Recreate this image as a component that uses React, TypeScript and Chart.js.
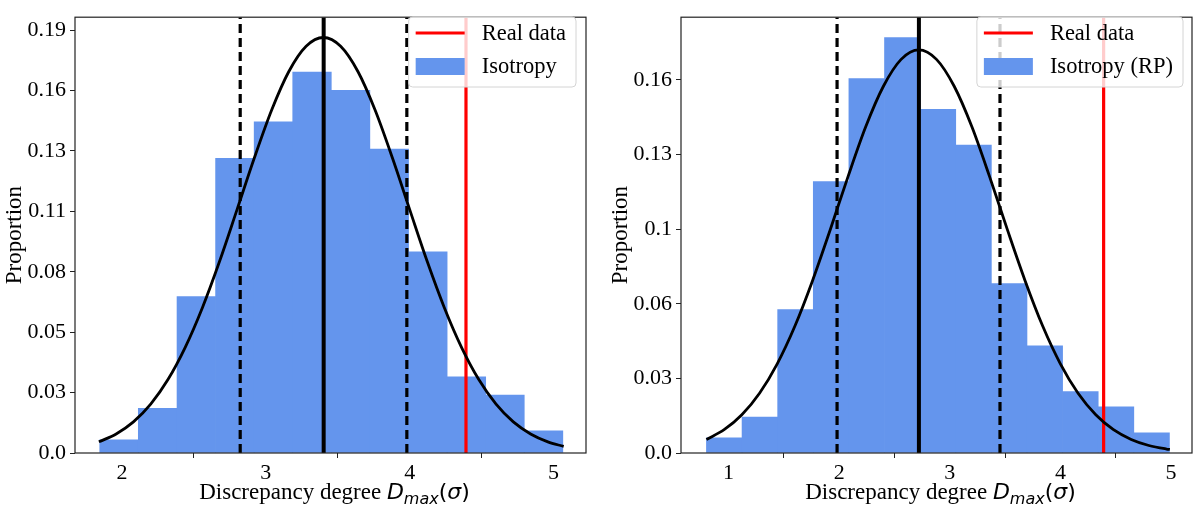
import React, { useEffect, useRef } from 'react';
import Chart from 'chart.js/auto';

// ---- left panel: Isotropy ----
const leftBinCenters = [1.98, 2.248, 2.517, 2.785, 3.053, 3.321, 3.589, 3.858, 4.126, 4.394, 4.662, 4.93];
const leftProportion = [0.0058, 0.0198, 0.0694, 0.1308, 0.147, 0.169, 0.161, 0.1349, 0.0893, 0.0338, 0.0257, 0.0098];
const leftCurveX = [1.84, 1.96, 2.08, 2.2, 2.32, 2.44, 2.56, 2.68, 2.8, 2.92, 3.04, 3.16, 3.28, 3.4, 3.52, 3.64, 3.76, 3.88, 4.0, 4.12, 4.24, 4.36, 4.48, 4.6, 4.72, 4.84, 4.96, 5.07];
const leftCurveY = [0.00496, 0.00846, 0.0138, 0.0217, 0.0326, 0.0469, 0.0646, 0.0853, 0.108, 0.1309, 0.1521, 0.1693, 0.1805, 0.1844, 0.1805, 0.1693, 0.1521, 0.1309, 0.108, 0.0853, 0.0646, 0.0469, 0.0326, 0.0217, 0.0138, 0.00846, 0.00496, 0.00292];
const leftMean = 3.402;
const leftSigmaLines = [2.822, 3.98];
const leftReal = 4.391;
const leftXTicks = [2, 3, 4, 5];
const leftYTicks = [0, 0.0268, 0.0536, 0.0804, 0.1073, 0.1341, 0.1609, 0.1877];
const leftYLabels = ['0.0', '0.03', '0.05', '0.08', '0.11', '0.13', '0.16', '0.19'];
const leftLegend = ['Real data', 'Isotropy'];

// ---- right panel: Isotropy (RP) ----
const rightBinCenters = [0.961, 1.283, 1.605, 1.927, 2.249, 2.571, 2.893, 3.215, 3.537, 3.859, 4.181, 4.503, 4.825];
const rightProportion = [0.0066, 0.0155, 0.0619, 0.1172, 0.1616, 0.1793, 0.1483, 0.1329, 0.0731, 0.0463, 0.0265, 0.0199, 0.0087];
const rightCurveX = [0.8, 0.96, 1.12, 1.28, 1.44, 1.6, 1.76, 1.92, 2.08, 2.24, 2.4, 2.56, 2.72, 2.88, 3.04, 3.2, 3.36, 3.52, 3.68, 3.84, 4.0, 4.16, 4.32, 4.48, 4.64, 4.8, 4.96, 4.99];
const rightCurveY = [0.00585, 0.01005, 0.0165, 0.0258, 0.0385, 0.0548, 0.0745, 0.0965, 0.1193, 0.1408, 0.1583, 0.1699, 0.174, 0.1699, 0.1583, 0.1408, 0.1193, 0.0965, 0.0745, 0.0548, 0.0385, 0.0258, 0.0165, 0.01005, 0.00585, 0.00324, 0.00172, 0.00152];
const rightMean = 2.721;
const rightSigmaLines = [1.981, 3.454];
const rightReal = 4.391;
const rightXTicks = [1, 2, 3, 4, 5];
const rightYTicks = [0, 0.0322, 0.0644, 0.0966, 0.1288, 0.161];
const rightYLabels = ['0.0', '0.03', '0.06', '0.1', '0.13', '0.16'];
const rightLegend = ['Real data', 'Isotropy (RP)'];

// x-axis title pieces: [text, style]
const xTitleParts: [string, string][] = [
  ['Discrepancy degree ', 'serif'],
  ['D', 'math'],
  ['max', 'sub'],
  ['(', 'paren'],
  ['σ', 'math'],
  [')', 'paren'],
];

const BAR_COLOR = '#6495ED';
const SERIF = '"Liberation Serif", "Times New Roman", serif';

type PanelProps = {
  centers: number[];
  values: number[];
  curveX: number[];
  curveY: number[];
  mean: number;
  sigmaLines: number[];
  real: number;
  xMin: number;
  xMax: number;
  yMax: number;
  xTicks: number[];
  yTicks: number[];
  yLabels: string[];
  legend: string[];
  yAxisWidth: number;
  padRight: number;
  titlePad: number;
  legendInset: number;
};

const vline = (x: number, yMax: number) => [
  { x, y: 0 },
  { x, y: yMax },
];

const framePlugin = {
  id: 'frame',
  afterDraw(chart: any) {
    const { ctx, chartArea: a } = chart;
    ctx.save();
    ctx.strokeStyle = '#222';
    ctx.lineWidth = 1.2;
    ctx.strokeRect(a.left, a.top, a.right - a.left, a.bottom - a.top);
    ctx.restore();
  },
};

const fontFor = (s: string) =>
  s === 'serif'
    ? `23px ${SERIF}`
    : s === 'sub'
    ? 'italic 16px "DejaVu Sans"'
    : s === 'paren'
    ? '22px "DejaVu Sans"'
    : 'italic 22px "DejaVu Sans"';

const xTitlePlugin = {
  id: 'xTitle',
  afterDraw(chart: any) {
    const { ctx, chartArea: a } = chart;
    ctx.save();
    ctx.fillStyle = '#000';
    ctx.textBaseline = 'alphabetic';
    ctx.textAlign = 'left';
    let total = 0;
    xTitleParts.forEach(([t, s]) => {
      ctx.font = fontFor(s);
      total += ctx.measureText(t).width;
    });
    let x = (a.left + a.right) / 2 - total / 2 + 4;
    const base = 499;
    xTitleParts.forEach(([t, s]) => {
      ctx.font = fontFor(s);
      ctx.fillText(t, x, s === 'sub' ? base + 5 : base);
      x += ctx.measureText(t).width;
    });
    ctx.restore();
  },
};

const legendPlugin = {
  id: 'boxLegend',
  afterDraw(chart: any) {
    const opts = chart.options.plugins.boxLegend;
    const labels: string[] = opts.labels;
    const { ctx, chartArea: a } = chart;
    ctx.save();
    ctx.font = `22.5px ${SERIF}`;
    const textW = Math.max(...labels.map((l) => ctx.measureText(l).width));
    const handleW = 49;
    const w = 7 + handleW + 17 + textW + 10;
    const h = 70;
    const right = a.right - opts.inset;
    const left = right - w;
    const top = 17;
    ctx.beginPath();
    const r = 4;
    ctx.moveTo(left + r, top);
    ctx.arcTo(right, top, right, top + h, r);
    ctx.arcTo(right, top + h, left, top + h, r);
    ctx.arcTo(left, top + h, left, top, r);
    ctx.arcTo(left, top, right, top, r);
    ctx.closePath();
    ctx.fillStyle = 'rgba(255,255,255,0.8)';
    ctx.fill();
    ctx.strokeStyle = '#d4d4d4';
    ctx.lineWidth = 1;
    ctx.stroke();
    const y1 = top + 16;
    const y2 = top + 49;
    ctx.strokeStyle = 'red';
    ctx.lineWidth = 3.2;
    ctx.beginPath();
    ctx.moveTo(left + 7, y1);
    ctx.lineTo(left + 7 + handleW, y1);
    ctx.stroke();
    ctx.fillStyle = BAR_COLOR;
    ctx.fillRect(left + 7, y2 - 8, handleW, 17);
    ctx.fillStyle = '#000';
    ctx.textBaseline = 'middle';
    ctx.fillText(labels[0], left + 7 + handleW + 17, y1 + 1);
    ctx.fillText(labels[1], left + 7 + handleW + 17, y2 + 1);
    ctx.restore();
  },
};

const Panel = (p: PanelProps) => {
  const chartRef = useRef<HTMLCanvasElement>(null);
  const chartInstance = useRef<Chart | null>(null);

  useEffect(() => {
    if (!chartRef.current) return;
    const ctx = chartRef.current.getContext('2d');
    if (!ctx) return;
    if (chartInstance.current) chartInstance.current.destroy();

    const lineBase = { type: 'line' as const, pointRadius: 0, fill: false, order: 1 };

    chartInstance.current = new Chart(ctx, {
      type: 'bar',
      data: {
        datasets: [
          {
            type: 'bar',
            label: p.legend[1],
            data: p.centers.map((x, i) => ({ x, y: p.values[i] })),
            backgroundColor: BAR_COLOR,
            borderColor: BAR_COLOR,
            borderWidth: 0,
            barPercentage: 1,
            categoryPercentage: 1,
            order: 10,
          },
          {
            ...lineBase,
            label: 'fit',
            data: p.curveX.map((x, i) => ({ x, y: p.curveY[i] })),
            borderColor: '#000',
            borderWidth: 2.8,
            cubicInterpolationMode: 'monotone',
          },
          {
            ...lineBase,
            label: 'mean',
            data: vline(p.mean, p.yMax),
            borderColor: '#000',
            borderWidth: 4,
          },
          ...p.sigmaLines.map((s) => ({
            ...lineBase,
            label: 'sigma',
            data: vline(s, p.yMax),
            borderColor: '#000',
            borderWidth: 3.2,
            borderDash: [9, 5],
          })),
          {
            ...lineBase,
            label: p.legend[0],
            data: vline(p.real, p.yMax),
            borderColor: 'red',
            borderWidth: 3.2,
          },
        ] as any,
      },
      options: {
        responsive: true,
        maintainAspectRatio: false,
        animation: false,
        events: [],
        layout: { padding: { top: 5, right: p.padRight, left: 0, bottom: 0 } },
        plugins: {
          legend: { display: false },
          tooltip: { enabled: false },
          boxLegend: { labels: p.legend, inset: p.legendInset },
        } as any,
        scales: {
          x: {
            type: 'linear',
            offset: false,
            min: p.xMin,
            max: p.xMax,
            afterBuildTicks: (scale: any) => {
              scale.ticks = p.xTicks.map((v) => ({ value: v }));
            },
            afterFit: (scale: any) => {
              scale.height = 59;
            },
            ticks: {
              font: { family: SERIF, size: 22 },
              color: '#000',
              padding: 2,
              maxRotation: 0,
              autoSkip: false,
              callback: (v: any) => String(v),
            },
            grid: {
              drawOnChartArea: false,
              drawTicks: true,
              tickLength: 5,
              tickColor: '#222',
              tickWidth: 1,
            },
            border: { display: false },
          },
          y: {
            type: 'linear',
            min: 0,
            max: p.yMax,
            afterBuildTicks: (scale: any) => {
              scale.ticks = p.yTicks.map((v) => ({ value: v }));
            },
            afterFit: (scale: any) => {
              scale.width = p.yAxisWidth;
            },
            ticks: {
              font: { family: SERIF, size: 22 },
              color: '#000',
              padding: 4,
              autoSkip: false,
              callback: (_v: any, i: number) => p.yLabels[i],
            },
            grid: {
              drawOnChartArea: false,
              drawTicks: true,
              tickLength: 5,
              tickColor: '#222',
              tickWidth: 1,
            },
            border: { display: false },
            title: {
              display: true,
              text: 'Proportion',
              font: { family: SERIF, size: 23 },
              color: '#000',
              padding: { top: p.titlePad, bottom: 0 },
            },
          },
        },
      } as any,
      plugins: [framePlugin, xTitlePlugin, legendPlugin],
    });

    return () => {
      if (chartInstance.current) {
        chartInstance.current.destroy();
        chartInstance.current = null;
      }
    };
  }, []);

  return <canvas ref={chartRef}></canvas>;
};

const App = () => {
  return (
    <div style={{ position: 'fixed', left: 0, top: 0, width: 1200, height: 512, background: '#fff' }}>
      <div style={{ position: 'absolute', left: 0, top: 0, width: 600, height: 512 }}>
        <Panel
          centers={leftBinCenters}
          values={leftProportion}
          curveX={leftCurveX}
          curveY={leftCurveY}
          mean={leftMean}
          sigmaLines={leftSigmaLines}
          real={leftReal}
          xMin={1.674}
          xMax={5.225}
          yMax={0.1934}
          xTicks={leftXTicks}
          yTicks={leftYTicks}
          yLabels={leftYLabels}
          legend={leftLegend}
          yAxisWidth={75}
          padRight={14}
          titlePad={1}
          legendInset={10}
        />
      </div>
      <div style={{ position: 'absolute', left: 600, top: 0, width: 600, height: 512 }}>
        <Panel
          centers={rightBinCenters}
          values={rightProportion}
          curveX={rightCurveX}
          curveY={rightCurveY}
          mean={rightMean}
          sigmaLines={rightSigmaLines}
          real={rightReal}
          xMin={0.57}
          xMax={5.19}
          yMax={0.1881}
          xTicks={rightXTicks}
          yTicks={rightYTicks}
          yLabels={rightYLabels}
          legend={rightLegend}
          yAxisWidth={81}
          padRight={8}
          titlePad={7}
          legendInset={9}
        />
      </div>
    </div>
  );
};

export default App;
